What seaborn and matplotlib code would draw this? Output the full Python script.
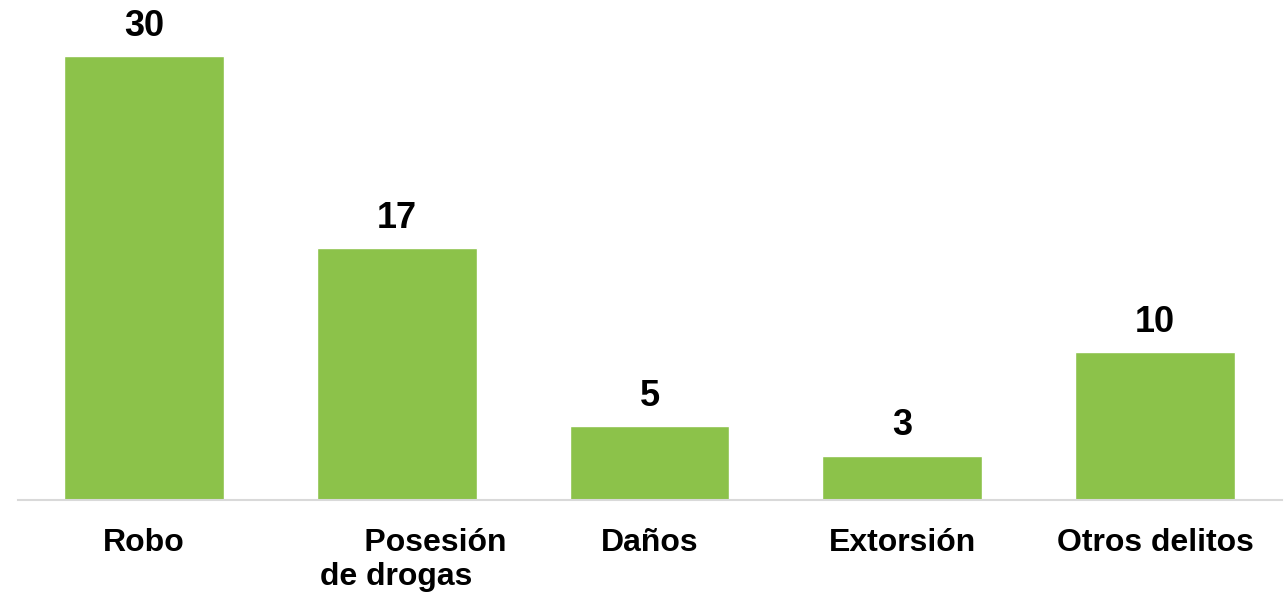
import matplotlib
matplotlib.use("Agg")
import matplotlib.transforms as mtransforms
import pandas as pd
import seaborn as sns
from matplotlib import pyplot as plt

categories = ["Robo", "Posesión\nde drogas", "Daños", "Extorsión", "Otros delitos"]
tick_labels = ["Robo", "     Posesión\nde drogas", "Daños", "Extorsión", "Otros delitos"]
values = [30, 17, 5, 3, 10]

BAR_COLOR = "#8CC24A"


def plot():
    sns.set_theme(style="white")
    plt.rcParams["font.family"] = ["Liberation Sans", "DejaVu Sans"]

    data = pd.DataFrame({"delito": categories, "casos": values})

    fig = plt.figure(figsize=(12.86, 5.95), dpi=100)
    # axes spans the five category slots, baseline at y=500px
    ax = fig.add_axes([17.5 / 1286, 95 / 595, 1264 / 1286, 500 / 595])

    sns.barplot(data=data, x="delito", y="casos", color=BAR_COLOR,
                saturation=1, width=0.632, ax=ax)

    ax.set_xlim(-0.5, 4.5)
    ax.set_ylim(0, 500 / 14.8)

    ax.bar_label(ax.containers[0], fmt="%d", padding=9,
                 fontsize=26, fontweight="bold", color="black")

    for side in ["top", "right", "left"]:
        ax.spines[side].set_visible(False)
    ax.spines["bottom"].set_color("#d9d9d9")
    ax.spines["bottom"].set_linewidth(1.5)

    ax.set_yticks([])
    ax.set_xlabel("")
    ax.set_ylabel("")
    ax.tick_params(axis="x", length=0, pad=20)
    ax.set_xticks(range(len(categories)))
    ax.set_xticklabels(tick_labels, fontsize=23, fontweight="bold",
                       color="black", linespacing=1.2)

    # second label sits a bit right of its slot, first line indented
    lbl = ax.get_xticklabels()[1]
    lbl.set_multialignment("left")
    lbl.set_transform(lbl.get_transform() + mtransforms.ScaledTranslation(
        17 / 100, 0, fig.dpi_scale_trans))

    fig.savefig("out.png", dpi=100)
    plt.close(fig)


plot()
